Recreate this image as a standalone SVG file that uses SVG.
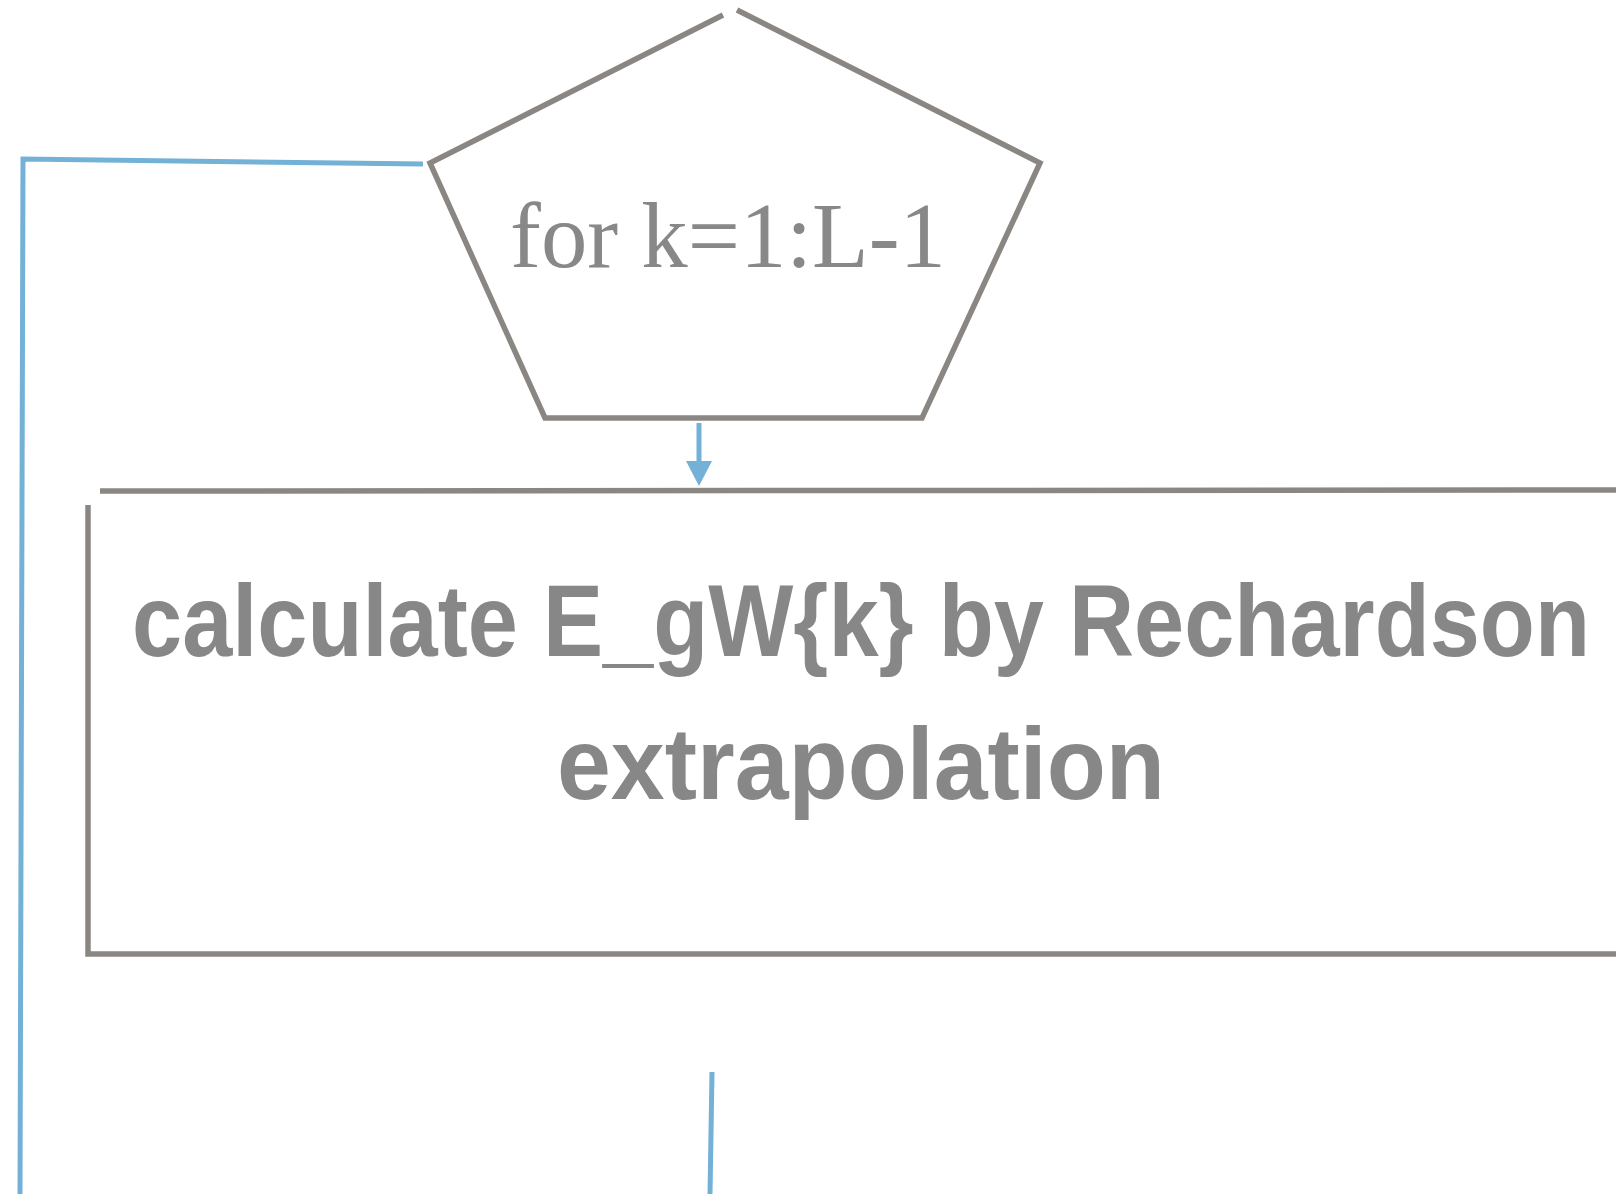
<svg xmlns="http://www.w3.org/2000/svg" width="1616" height="1194" viewBox="0 0 1616 1194">
<style>
.shape{fill:none;stroke:#8a8682;stroke-width:5.5;stroke-linejoin:miter}
.conn{fill:none;stroke:#74b1d6;stroke-width:5}
.t1{font-family:"Liberation Serif",serif;font-size:94px;fill:#888888}
.t2{font-family:"Liberation Sans",sans-serif;font-weight:bold;font-size:90px;fill:#878787}
</style>
<rect width="1616" height="1194" fill="#ffffff"/>
<g id="connectors">
<path class="conn" d="M423,164 L23,159 L20,1194"/>
<path class="conn" d="M699,423 L699,462"/>
<path d="M686,461 L712,461 L699,486 Z" fill="#74b1d6"/>
<path class="conn" d="M712,1072 L710,1194"/>
</g>
<g id="loop">
<path class="shape" d="M723,15 L430,163 L545,418 L922,418 L1040,163 L737,10"/>
<text class="t1" x="728" y="267" text-anchor="middle" textLength="436" lengthAdjust="spacingAndGlyphs">for k=1:L-1</text>
</g>
<g id="process">
<path class="shape" d="M100,491 L1620,490"/>
<path class="shape" d="M88,505 L88,954 L1620,954"/>
<g transform="translate(861,656) scale(1,1.13)">
<text class="t2" x="0" y="0" text-anchor="middle" textLength="1458" lengthAdjust="spacingAndGlyphs">calculate E_gW{k} by Rechardson</text>
</g>
<g transform="translate(861,799) scale(1,1.13)">
<text class="t2" x="0" y="0" text-anchor="middle" textLength="608" lengthAdjust="spacingAndGlyphs">extrapolation</text>
</g>
</g>
</svg>
